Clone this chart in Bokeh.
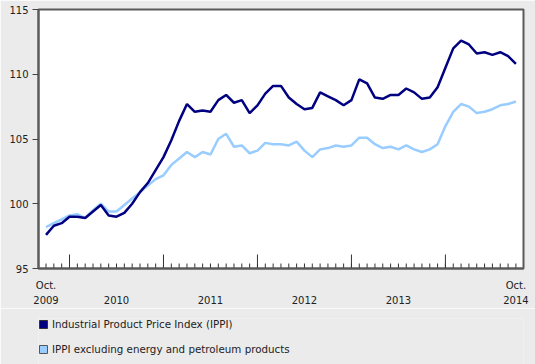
import math
from bokeh.plotting import figure
from bokeh.layouts import column
from bokeh.models import (Range1d, LinearAxis, FixedTicker, Legend, LegendItem)
from bokeh.embed import file_html
from bokeh.resources import INLINE

# Monthly data, Oct. 2009 .. Oct. 2014
ippi = [97.6, 98.3, 98.5, 99.0, 99.0, 98.9, 99.4, 99.9, 99.1, 99.0,
        99.3, 100.0, 100.9, 101.6, 102.6, 103.6, 104.9, 106.4, 107.7, 107.1,
        107.2, 107.1, 108.0, 108.4, 107.8, 108.0, 107.0, 107.6, 108.5, 109.1,
        109.1, 108.2, 107.7, 107.3, 107.4, 108.6, 108.3, 108.0, 107.6, 108.0,
        109.6, 109.3, 108.2, 108.1, 108.4, 108.4, 108.9, 108.6, 108.1, 108.2,
        109.0, 110.5, 112.0, 112.6, 112.3, 111.6, 111.7, 111.5, 111.7, 111.4,
        110.8]
ippi_ex = [98.2, 98.5, 98.8, 99.1, 99.2, 98.9, 99.5, 100.0, 99.4, 99.4,
           99.9, 100.4, 100.9, 101.4, 101.9, 102.2, 103.0, 103.5, 104.0, 103.6,
           104.0, 103.8, 105.0, 105.4, 104.4, 104.5, 103.9, 104.1, 104.7, 104.6,
           104.6, 104.5, 104.8, 104.1, 103.6, 104.2, 104.3, 104.5, 104.4, 104.5,
           105.1, 105.1, 104.6, 104.3, 104.4, 104.2, 104.5, 104.2, 104.0, 104.2,
           104.6, 106.0, 107.1, 107.7, 107.5, 107.0, 107.1, 107.3, 107.6, 107.7,
           107.9]
year_labels = ["2009", "2010", "2011", "2012", "2013", "2014"]
series_names = ["Industrial Product Price Index (IPPI)",
                "IPPI excluding energy and petroleum products"]
y_ticks = [95, 100, 105, 110, 115]

navy = "#000080"
light = "#99ccff"
frame_col = "#5a5a5a"
tick_col = "#333333"
bg = "#ebebeb"
font = "DejaVu Sans"

x = list(range(len(ippi)))
n = len(ippi)

p = figure(width=535, height=308, output_backend="svg", toolbar_location=None,
           x_range=Range1d(-0.96, n - 1 + 0.97),
           y_range=Range1d(y_ticks[0], y_ticks[-1]),
           min_border_left=38, min_border_right=12, min_border_top=9,
           min_border_bottom=40)
p.xaxis.visible = False
p.yaxis.visible = False
p.xgrid.visible = False
p.ygrid.visible = False
p.border_fill_color = bg
p.background_fill_color = "white"
p.outline_line_color = frame_col
p.outline_line_width = 2

# y axis
ya = LinearAxis(ticker=FixedTicker(ticks=y_ticks))
ya.axis_line_color = frame_col
ya.axis_line_width = 2
ya.major_tick_out = 6
ya.major_tick_in = 0
ya.minor_tick_out = 0
ya.major_tick_line_color = "#444444"
ya.major_label_standoff = 4
ya.major_label_text_font = font
ya.major_label_text_font_size = "10px"
ya.major_label_text_color = "#222222"
p.add_layout(ya, "left")

# "Oct." line of the x labels
xo = LinearAxis(ticker=FixedTicker(ticks=[0, n - 1]))
xo.major_label_overrides = {0: "Oct.", n - 1: "Oct."}
xo.axis_line_color = frame_col
xo.axis_line_width = 2
xo.major_tick_line_color = None
xo.minor_tick_line_color = None
xo.major_tick_in = 0
xo.major_tick_out = 0
xo.minor_tick_out = 0
xo.major_label_standoff = 11
xo.major_label_text_font = font
xo.major_label_text_font_size = "10px"
xo.major_label_text_color = "#222222"
p.add_layout(xo, "below")

# year line
yr_pos = [0] + [(int(y) - 2009) * 12 - 3 for y in year_labels[1:-1]] + [n - 1]
xy = LinearAxis(ticker=FixedTicker(ticks=yr_pos))
xy.major_label_overrides = {pos: lab for pos, lab in zip(yr_pos, year_labels)}
xy.axis_line_color = None
xy.major_tick_line_color = None
xy.minor_tick_line_color = None
xy.major_tick_in = 0
xy.major_tick_out = 0
xy.minor_tick_out = 0
xy.major_label_standoff = 2
xy.major_label_text_font = font
xy.major_label_text_font_size = "10px"
xy.major_label_text_color = "#222222"
p.add_layout(xy, "below")

# inward tick marks on the time axis: monthly short, January long
jan_idx = [i for i in x if (i + 9) % 12 == 0]
p.scatter(x=x, y=[y_ticks[0]] * n, marker="dash", size=10, angle=math.pi / 2,
          line_color=tick_col, line_width=1)
p.scatter(x=jan_idx, y=[y_ticks[0]] * len(jan_idx), marker="dash", size=28,
          angle=math.pi / 2, line_color=tick_col, line_width=1)

p.line(x, ippi_ex, line_color=light, line_width=2.5)
p.line(x, ippi, line_color=navy, line_width=2.5)

# legend in its own strip below the chart
lf = figure(width=535, height=56, output_backend="svg", toolbar_location=None,
            x_range=Range1d(0, 1), y_range=Range1d(0, 1),
            min_border_left=38, min_border_right=0, min_border_top=10,
            min_border_bottom=0)
lf.xaxis.visible = False
lf.yaxis.visible = False
lf.xgrid.visible = False
lf.ygrid.visible = False
lf.outline_line_color = None
lf.border_fill_color = bg
lf.background_fill_color = bg

s1 = lf.rect(x=x, y=ippi, width=1, height=1, fill_color=navy,
             line_color="#333333", visible=False)
s2 = lf.rect(x=x, y=ippi_ex, width=1, height=1, fill_color=light,
             line_color="#555555", visible=False)
legend = Legend(items=[LegendItem(label=series_names[0], renderers=[s1]),
                       LegendItem(label=series_names[1], renderers=[s2])],
                location="top_left", orientation="vertical")
legend.glyph_width = 10
legend.glyph_height = 10
legend.label_height = 12
legend.spacing = 13
legend.padding = 0
legend.margin = 0
legend.label_standoff = 4
legend.label_text_font = font
legend.label_text_font_size = "10.3px"
legend.label_text_color = "#222222"
legend.border_line_alpha = 0
legend.background_fill_alpha = 0
legend.inactive_fill_alpha = 0
lf.add_layout(legend, "center")

layout = column(p, lf, spacing=0)
open("out.html", "w").write(file_html(layout, INLINE))
